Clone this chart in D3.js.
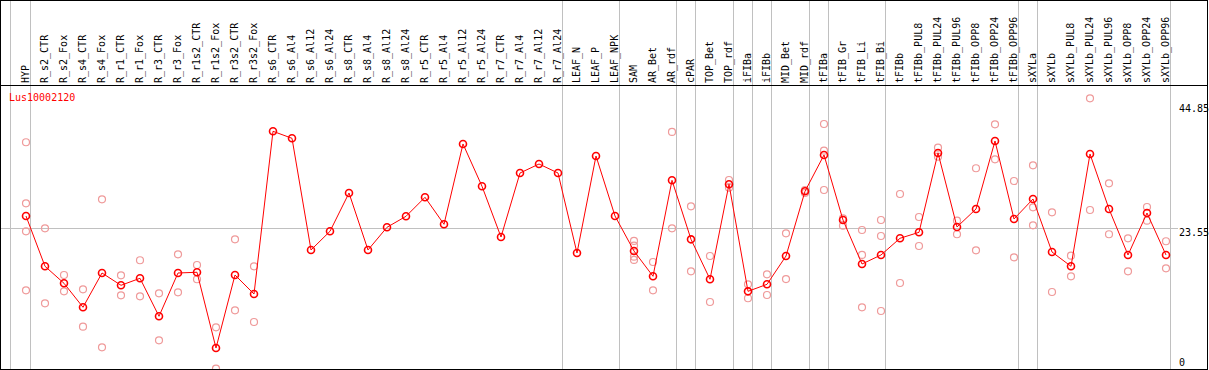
<!DOCTYPE html>
<html>
<head>
<meta charset="utf-8">
<script src="https://cdnjs.cloudflare.com/ajax/libs/d3/7.8.5/d3.min.js"></script>
<style>
    body { margin: 0; background: #fff; }
    svg { display: block; }
    text { font-family: "DejaVu Sans Mono", monospace; font-size: 10px; }
</style>
</head>
<body>
<div id="chart"></div>
<script>
// sample names, left to right
let labels = ["HYP", "R_s2_CTR", "R_s2_Fox", "R_s4_CTR", "R_s4_Fox", "R_r1_CTR", "R_r1_Fox",
    "R_r3_CTR", "R_r3_Fox", "R_r1s2_CTR", "R_r1s2_Fox", "R_r3s2_CTR", "R_r3s2_Fox",
    "R_s6_CTR", "R_s6_Al4", "R_s6_Al12", "R_s6_Al24", "R_s8_CTR", "R_s8_Al4", "R_s8_Al12", "R_s8_Al24",
    "R_r5_CTR", "R_r5_Al4", "R_r5_Al12", "R_r5_Al24", "R_r7_CTR", "R_r7_Al4", "R_r7_Al12", "R_r7_Al24",
    "LEAF_N", "LEAF_P", "LEAF_NPK", "SAM", "AR_Bet", "AR_rdf", "cPAR", "TOP_Bet", "TOP_rdf",
    "iFIBa", "iFIBb", "MID_Bet", "MID_rdf", "tFIBa", "tFIB_Gr", "tFIB_Li", "tFIB_Bi", "tFIBb",
    "tFIBb_PUL8", "tFIBb_PUL24", "tFIBb_PUL96", "tFIBb_OPP8", "tFIBb_OPP24", "tFIBb_OPP96",
    "sXYLa", "sXYLb", "sXYLb_PUL8", "sXYLb_PUL24", "sXYLb_PUL96", "sXYLb_OPP8", "sXYLb_OPP24", "sXYLb_OPP96"];

// mean expression per sample
let means = [25.52, 17.26, 14.47, 10.53, 16.16, 14.14, 15.29, 9.05, 16.16, 16.28, 3.84, 15.83, 12.71,
    39.43, 38.28, 19.94, 23.01, 29.30, 19.94, 23.67, 25.47, 28.59, 24.16, 37.35, 30.40,
    22.07, 32.58, 34.06, 32.58, 19.44, 35.37, 25.52, 19.77, 15.62, 31.38, 21.69, 15.13, 30.73,
    13.15, 14.30, 18.95, 29.58, 35.54, 24.86, 17.64, 19.12, 21.86,
    22.84, 35.87, 23.72, 26.67, 37.84, 25.03,
    28.31, 19.61, 17.26, 35.70, 26.67, 19.12, 26.01, 19.12];

// replicate values per sample (empty where none shown)
let replicates = [
    [37.63, 27.61, 23.01, 13.32], [23.50, 11.18], [15.83, 13.15], [13.48, 7.34], [28.26, 3.96],
    [15.78, 12.50], [18.25, 12.33], [12.83, 5.11], [19.23, 12.99], [17.47, 15.13], [7.24, 0.44],
    [21.69, 10.03], [17.26, 8.11],
    [], [], [], [], [], [], [], [], [], [], [], [], [], [], [], [], [], [], [],
    [21.42, 20.64, 18.84, 18.30], [17.97, 13.32], [39.32, 23.50], [27.11, 16.44], [18.95, 11.40],
    [31.43, 30.17], [14.30, 12.01], [15.95, 12.55], [22.68, 15.17], [29.79, 29.30],
    [40.63, 36.25, 29.79], [25.14, 23.93], [23.22, 19.12, 10.53], [24.86, 22.24, 9.92], [29.13, 14.52],
    [25.36, 20.59], [36.74, 35.26], [24.75, 22.52], [33.36, 19.89], [40.58, 34.83], [31.27, 18.74],
    [33.85, 26.95, 23.99], [26.13, 13.04], [19.00, 15.62], [44.85, 26.51], [30.89, 22.52],
    [21.86, 16.44], [27.00, 24.75], [21.37, 16.93]];

// index of the last sample in each group
let groupEnds = [0, 28, 31, 34, 35, 37, 38, 39, 41, 42, 45, 52, 53, 60];

let yTicks = [44.85, 23.55, 0];
let gridValue = 23.55;
let geneName = "Lus10002120";

let width = 1209, height = 370;
let headerBottom = 85, plotBottom = 369;

let svg = d3.select("#chart").append("svg")
    .attr("width", width)
    .attr("height", height);

let x = d3.scaleBand()
    .domain(labels)
    .range([11, 11 + 19 * labels.length]);

let y = d3.scaleLinear()
    .domain([0, 44.85])
    .range([371.4, 98.3]);

let px = d => x(d) + 15;

svg.append("defs").append("clipPath").attr("id", "plotClip")
    .append("rect")
    .attr("x", 0).attr("y", headerBottom)
    .attr("width", width).attr("height", plotBottom - headerBottom);

// grey group separators, full height
let sepX = [x(labels[0]) - 0.5].concat(groupEnds.map(i => x(labels[i]) + x.step() + 0.5));
svg.selectAll("line.sep")
    .data(sepX)
    .join("line")
    .attr("class", "sep")
    .attr("x1", d => d).attr("x2", d => d)
    .attr("y1", 0).attr("y2", plotBottom)
    .attr("stroke", "#c0c0c0");

// horizontal grid line
svg.append("line")
    .attr("x1", 1).attr("x2", 1178)
    .attr("y1", Math.round(y(gridValue)) + 0.5)
    .attr("y2", Math.round(y(gridValue)) + 0.5)
    .attr("stroke", "#c0c0c0");

// column labels
svg.selectAll("text.col")
    .data(labels)
    .join("text")
    .attr("class", "col")
    .attr("transform", d => "translate(" + (px(d) + 3) + "," + (headerBottom - 2) + ") rotate(-90)")
    .attr("fill", "#000")
    .text(d => d);

// right axis labels
svg.selectAll("text.tick")
    .data(yTicks)
    .join("text")
    .attr("class", "tick")
    .attr("x", 1179)
    .attr("y", d => Math.min(Math.max(y(d), 103) + 8.5, 366))
    .attr("fill", "#000")
    .text(d => d);

let plot = svg.append("g").attr("clip-path", "url(#plotClip)");

// replicate points
let reps = [];
replicates.forEach((vals, i) => vals.forEach(v => reps.push({label: labels[i], value: v})));
plot.selectAll("circle.rep")
    .data(reps)
    .join("circle")
    .attr("class", "rep")
    .attr("cx", d => px(d.label))
    .attr("cy", d => y(d.value))
    .attr("r", 3.5)
    .attr("fill", "none")
    .attr("stroke", "#ef9a9a")
    .attr("stroke-width", 1.2);

// mean line and points
let line = d3.line()
    .x((d, i) => px(labels[i]))
    .y(d => y(d));

plot.append("path")
    .datum(means)
    .attr("d", line)
    .attr("fill", "none")
    .attr("stroke", "#ff0000")
    .attr("stroke-width", 1);

plot.selectAll("circle.mean")
    .data(means)
    .join("circle")
    .attr("class", "mean")
    .attr("cx", (d, i) => px(labels[i]))
    .attr("cy", d => y(d))
    .attr("r", 3.5)
    .attr("fill", "none")
    .attr("stroke", "#ff0000")
    .attr("stroke-width", 1.6);

svg.append("text")
    .attr("x", 9)
    .attr("y", 101)
    .attr("fill", "#ff0000")
    .text(geneName);

// black frame and header rule
svg.append("rect")
    .attr("x", 0.5).attr("y", 0.5)
    .attr("width", 1207).attr("height", plotBottom)
    .attr("fill", "none")
    .attr("stroke", "#000");

svg.append("line")
    .attr("x1", 0).attr("x2", 1208)
    .attr("y1", headerBottom + 0.5).attr("y2", headerBottom + 0.5)
    .attr("stroke", "#000");
</script>
</body>
</html>
